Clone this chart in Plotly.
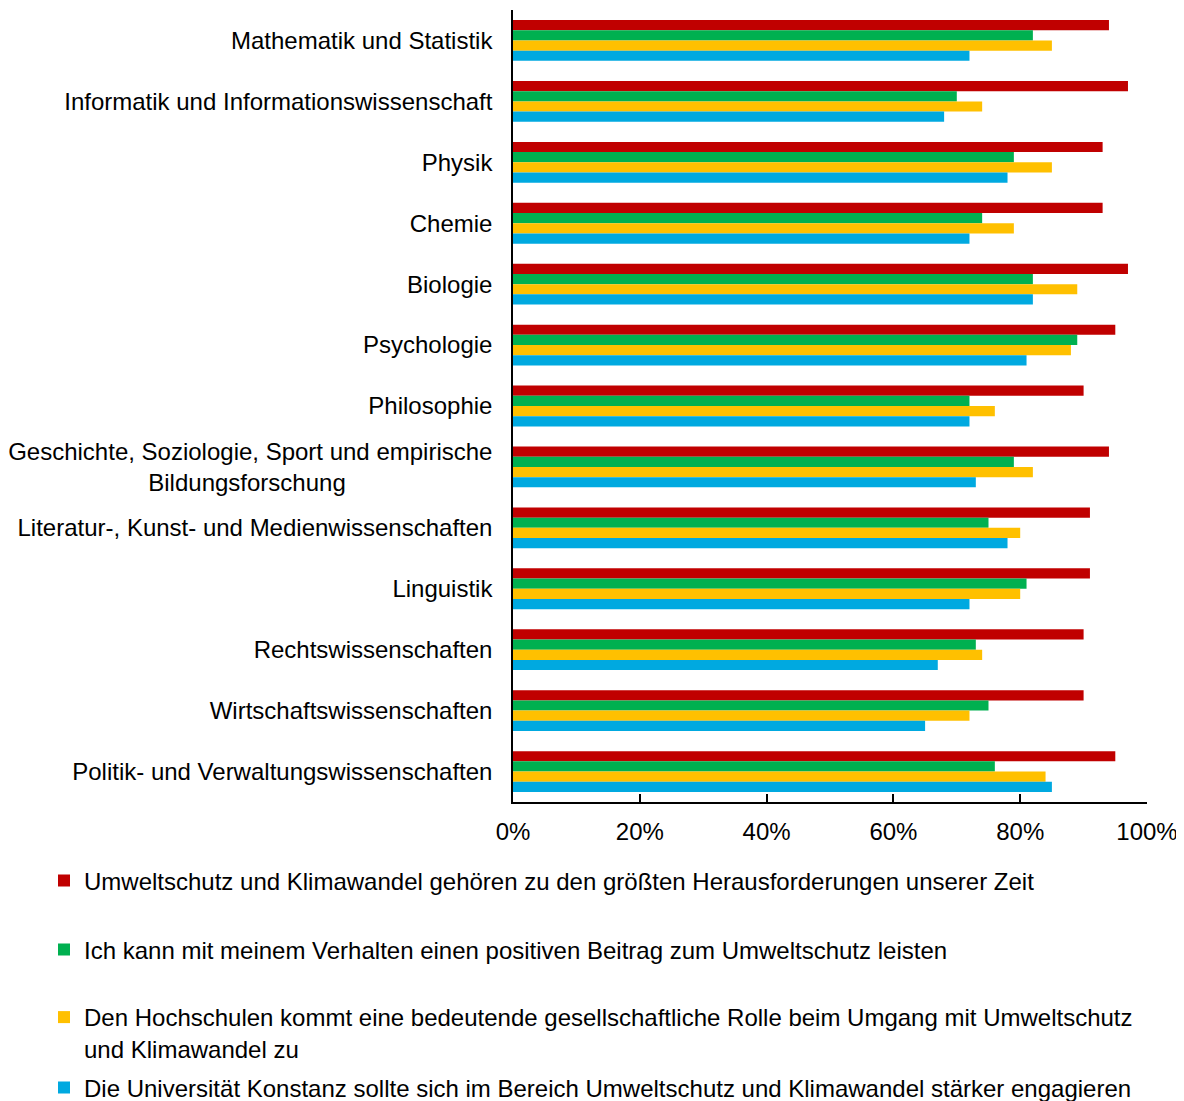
import plotly.graph_objects as go

# Fächer (von oben nach unten)
faecher = [
    'Mathematik und Statistik',
    'Informatik und Informationswissenschaft',
    'Physik',
    'Chemie',
    'Biologie',
    'Psychologie',
    'Philosophie',
    'Geschichte, Soziologie, Sport und empirische<br>Bildungsforschung' + '\u00a0' * 22,
    'Literatur-, Kunst- und Medienwissenschaften',
    'Linguistik',
    'Rechtswissenschaften',
    'Wirtschaftswissenschaften',
    'Politik- und Verwaltungswissenschaften',
]

# Zustimmung in %
herausforderung = [94, 97, 93, 93, 97, 95, 90, 94, 91, 91, 90, 90, 95]
beitrag = [82, 70, 79, 74, 82, 89, 72, 79, 75, 81, 73, 75, 76]
hochschulen = [85, 74, 85, 79, 89, 88, 76, 82, 80, 80, 74, 72, 84]
uni_konstanz = [72, 68, 78, 72, 82, 81, 72, 73, 78, 72, 67, 65, 85]

namen = [
    'Umweltschutz und Klimawandel gehören zu den größten Herausforderungen unserer Zeit',
    'Ich kann mit meinem Verhalten einen positiven Beitrag zum Umweltschutz leisten',
    'Den Hochschulen kommt eine bedeutende gesellschaftliche Rolle beim Umgang mit Umweltschutz<br>und Klimawandel zu',
    'Die Universität Konstanz sollte sich im Bereich Umweltschutz und Klimawandel stärker engagieren',
]
farben = ['#C00000', '#00B050', '#FFC000', '#00A9E0']
legenden = ['legend', 'legend2', 'legend3', 'legend4']

FONT = 'Liberation Sans, Arial, sans-serif'
SIZE = 24

fig = go.Figure()
for werte, name, farbe, leg in zip([herausforderung, beitrag, hochschulen, uni_konstanz],
                                   namen, farben, legenden):
    fig.add_trace(go.Bar(x=werte, y=faecher, orientation='h', name=name,
                         marker=dict(color=farbe, line=dict(width=0)),
                         legend=leg, showlegend=True))

# Plotbereich im Bild: x 513..1147, y 10..802 (Pixel); die Seite hat 8px Rand
def py(ypx):
    return (802 - ypx) / 792

leg_x = (44 - 513) / 634
def legende(ypx, valign='middle'):
    return dict(x=leg_x, y=py(ypx), xanchor='left', yanchor='middle',
                orientation='v', bgcolor='rgba(0,0,0,0)', valign=valign,
                font=dict(family=FONT, size=SIZE, color='#000000'))

fig.update_layout(
    width=1184, height=1101,
    margin=dict(l=505, r=45, t=2, b=307, autoexpand=False),
    showlegend=True,
    plot_bgcolor='white', paper_bgcolor='white',
    barmode='group', bargap=0.33, bargroupgap=0,
    font=dict(family=FONT, size=SIZE, color='#000000'),
    xaxis=dict(range=[0, 100], dtick=20, ticksuffix='%', showgrid=False,
               showline=True, linecolor='#000000', linewidth=1.5,
               ticks='inside', ticklen=8, tickcolor='#000000', tickwidth=1.5,
               ticklabelstandoff=7, zeroline=False),
    yaxis=dict(autorange='reversed', showgrid=False, showline=True,
               linecolor='#000000', linewidth=1.5, ticks='', ticklabelstandoff=14),
    legend=legende(881),
    legend2=legende(950),
    legend3=legende(1033, valign='top'),
    legend4=legende(1088),
)

fig.write_html('out.html')
